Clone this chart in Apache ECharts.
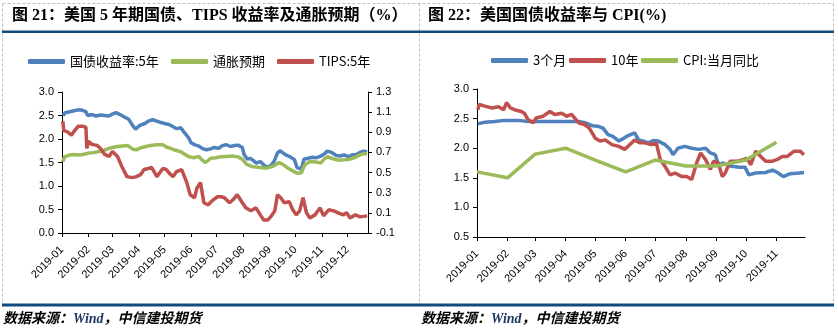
<!DOCTYPE html>
<html><head><meta charset="utf-8">
<script src="https://cdn.jsdelivr.net/npm/echarts@6/dist/echarts.min.js"></script>
<style>html,body{margin:0;padding:0;background:#fff}#c{width:838px;height:328px}</style>
</head><body><div id="c"></div>
<script>
// ---------------- DATA ----------------
const title21 = '图 21：美国 5 年期国债、TIPS 收益率及通胀预期（%）';
const title22 = '图 22：美国国债收益率与 CPI(%)';
const sourceParts = ['数据来源：', 'Wind', '，中信建投期货'];

const leftMonthLabels = ['2019-01','2019-02','2019-03','2019-04','2019-05','2019-06','2019-07','2019-08','2019-09','2019-10','2019-11','2019-12'];
const rightMonthLabels = ['2019-01','2019-02','2019-03','2019-04','2019-05','2019-06','2019-07','2019-08','2019-09','2019-10','2019-11'];
const leftYTicks = [0.0,0.5,1.0,1.5,2.0,2.5,3.0];
const rightYTicks = [-0.1,0.1,0.3,0.5,0.7,0.9,1.1,1.3];
const right2YTicks = [0.5,1.0,1.5,2.0,2.5,3.0];

const names21 = ['国债收益率:5年','通胀预期','TIPS:5年'];
const names22 = ['3个月','10年','CPI:当月同比'];

// 5Y Treasury yield (left axis)
const tsy5 = [
['2019-01-02',2.50],['2019-01-05',2.56],['2019-01-10',2.58],['2019-01-15',2.60],['2019-01-20',2.62],['2019-01-25',2.61],['2019-01-29',2.58],['2019-01-31',2.50],
['2019-02-05',2.52],['2019-02-10',2.49],['2019-02-15',2.51],['2019-02-20',2.50],['2019-02-25',2.49],
['2019-03-01',2.53],['2019-03-05',2.56],['2019-03-10',2.52],['2019-03-15',2.47],['2019-03-20',2.42],['2019-03-25',2.28],['2019-03-28',2.21],
['2019-04-02',2.29],['2019-04-08',2.33],['2019-04-12',2.38],['2019-04-17',2.41],['2019-04-22',2.38],['2019-04-27',2.35],
['2019-05-01',2.33],['2019-05-06',2.31],['2019-05-10',2.27],['2019-05-15',2.22],['2019-05-20',2.24],['2019-05-24',2.14],['2019-05-29',2.03],
['2019-06-01',1.92],['2019-06-05',1.88],['2019-06-10',1.85],['2019-06-14',1.80],['2019-06-19',1.77],['2019-06-24',1.79],['2019-06-28',1.82],
['2019-07-03',1.80],['2019-07-08',1.86],['2019-07-12',1.88],['2019-07-17',1.84],['2019-07-22',1.86],['2019-07-26',1.87],['2019-07-31',1.82],
['2019-08-02',1.67],['2019-08-06',1.57],['2019-08-09',1.59],['2019-08-13',1.54],['2019-08-16',1.49],['2019-08-21',1.52],['2019-08-26',1.43],['2019-08-30',1.40],
['2019-09-03',1.45],['2019-09-06',1.52],['2019-09-10',1.70],['2019-09-13',1.75],['2019-09-17',1.70],['2019-09-20',1.66],['2019-09-25',1.62],['2019-09-30',1.56],
['2019-10-03',1.39],['2019-10-08',1.36],['2019-10-11',1.57],['2019-10-16',1.59],['2019-10-21',1.61],['2019-10-25',1.60],['2019-10-30',1.63],
['2019-11-04',1.68],['2019-11-07',1.74],['2019-11-12',1.72],['2019-11-18',1.65],['2019-11-22',1.64],['2019-11-27',1.66],
['2019-12-03',1.62],['2019-12-06',1.66],['2019-12-11',1.67],['2019-12-16',1.72],['2019-12-20',1.74],['2019-12-24',1.73]
];
// 5Y breakeven inflation (left axis)
const breakeven = [
['2019-01-02',1.52],['2019-01-04',1.62],['2019-01-10',1.66],['2019-01-15',1.67],['2019-01-22',1.66],['2019-01-28',1.68],
['2019-02-01',1.70],['2019-02-07',1.71],['2019-02-12',1.73],['2019-02-18',1.75],['2019-02-25',1.80],
['2019-03-01',1.82],['2019-03-07',1.84],['2019-03-13',1.85],['2019-03-19',1.86],['2019-03-25',1.78],['2019-03-29',1.77],
['2019-04-03',1.81],['2019-04-09',1.84],['2019-04-15',1.86],['2019-04-22',1.88],['2019-04-29',1.88],
['2019-05-03',1.83],['2019-05-08',1.80],['2019-05-14',1.76],['2019-05-20',1.73],['2019-05-24',1.68],['2019-05-30',1.62],
['2019-06-04',1.60],['2019-06-10',1.63],['2019-06-14',1.55],['2019-06-18',1.50],['2019-06-24',1.59],['2019-06-30',1.60],
['2019-07-05',1.62],['2019-07-12',1.63],['2019-07-19',1.64],['2019-07-26',1.62],['2019-07-31',1.57],
['2019-08-05',1.46],['2019-08-12',1.41],['2019-08-19',1.40],['2019-08-26',1.38],['2019-08-30',1.39],
['2019-09-05',1.42],['2019-09-12',1.50],['2019-09-18',1.44],['2019-09-24',1.36],['2019-09-30',1.30],
['2019-10-04',1.27],['2019-10-08',1.28],['2019-10-12',1.45],['2019-10-18',1.52],['2019-10-25',1.51],['2019-10-31',1.49],
['2019-11-04',1.58],['2019-11-08',1.62],['2019-11-14',1.58],['2019-11-20',1.55],['2019-11-27',1.56],
['2019-12-03',1.57],['2019-12-09',1.60],['2019-12-13',1.64],['2019-12-18',1.68],['2019-12-24',1.69]
];
// 5Y TIPS yield (right axis)
const tips5 = [
['2019-01-02',1.01],['2019-01-03',0.92],['2019-01-08',0.90],['2019-01-12',0.87],['2019-01-16',0.92],['2019-01-20',0.96],['2019-01-25',0.96],['2019-01-29',0.95],['2019-01-30',0.74],
['2019-02-01',0.81],['2019-02-05',0.78],['2019-02-11',0.77],['2019-02-15',0.74],['2019-02-20',0.68],['2019-02-25',0.66],
['2019-03-01',0.71],['2019-03-07',0.66],['2019-03-12',0.56],['2019-03-18',0.46],['2019-03-24',0.45],['2019-03-29',0.46],
['2019-04-03',0.48],['2019-04-07',0.53],['2019-04-12',0.54],['2019-04-16',0.55],['2019-04-22',0.46],['2019-04-29',0.54],
['2019-05-03',0.53],['2019-05-07',0.49],['2019-05-11',0.46],['2019-05-15',0.51],['2019-05-21',0.53],['2019-05-27',0.40],['2019-05-31',0.28],
['2019-06-05',0.25],['2019-06-08',0.35],['2019-06-12',0.40],['2019-06-16',0.20],['2019-06-21',0.18],['2019-06-27',0.23],
['2019-07-02',0.26],['2019-07-06',0.26],['2019-07-10',0.25],['2019-07-16',0.20],['2019-07-20',0.23],['2019-07-25',0.28],['2019-07-31',0.20],
['2019-08-04',0.15],['2019-08-10',0.12],['2019-08-16',0.15],['2019-08-21',0.08],['2019-08-25',0.03],['2019-08-30',0.03],
['2019-09-03',0.07],['2019-09-07',0.12],['2019-09-10',0.28],['2019-09-14',0.25],['2019-09-18',0.20],['2019-09-24',0.21],['2019-09-28',0.13],
['2019-10-02',0.08],['2019-10-06',0.12],['2019-10-10',0.25],['2019-10-14',0.10],['2019-10-18',0.05],['2019-10-24',0.08],['2019-10-30',0.15],
['2019-11-03',0.07],['2019-11-09',0.13],['2019-11-15',0.12],['2019-11-20',0.10],['2019-11-26',0.08],['2019-11-30',0.10],
['2019-12-04',0.05],['2019-12-10',0.08],['2019-12-16',0.06],['2019-12-24',0.07]
];
// 3M bill yield
const bill3m = [
['2019-01-02',2.41],['2019-01-09',2.44],['2019-01-19',2.45],['2019-01-29',2.47],['2019-02-12',2.47],['2019-02-22',2.45],['2019-03-04',2.45],['2019-03-18',2.45],['2019-03-28',2.45],
['2019-04-07',2.45],['2019-04-14',2.45],['2019-04-21',2.43],['2019-04-28',2.38],['2019-05-04',2.37],['2019-05-09',2.34],['2019-05-14',2.23],['2019-05-19',2.20],['2019-05-25',2.12],['2019-05-30',2.17],
['2019-06-03',2.21],['2019-06-10',2.26],['2019-06-14',2.14],['2019-06-19',2.12],['2019-06-24',2.09],['2019-06-29',2.13],['2019-07-04',2.12],['2019-07-11',2.06],['2019-07-16',1.98],['2019-07-19',1.89],
['2019-07-24',2.00],['2019-07-31',2.03],['2019-08-07',2.00],['2019-08-14',1.98],['2019-08-21',2.00],['2019-08-26',1.92],['2019-08-31',1.89],['2019-09-03',1.72],['2019-09-08',1.75],['2019-09-15',1.70],
['2019-09-24',1.68],['2019-09-30',1.68],['2019-10-04',1.55],['2019-10-11',1.58],['2019-10-21',1.59],['2019-10-28',1.63],['2019-11-02',1.59],['2019-11-08',1.52],['2019-11-15',1.57],['2019-11-24',1.58],['2019-11-29',1.59]
];
// 10Y Treasury yield
const tsy10 = [
['2019-01-02',2.65],['2019-01-03',2.74],['2019-01-09',2.71],['2019-01-16',2.68],['2019-01-23',2.70],['2019-01-28',2.65],['2019-01-31',2.77],
['2019-02-04',2.68],['2019-02-08',2.65],['2019-02-15',2.62],['2019-02-18',2.59],['2019-02-22',2.48],['2019-02-27',2.43],
['2019-03-02',2.51],['2019-03-09',2.54],['2019-03-16',2.62],['2019-03-21',2.57],['2019-03-28',2.59],
['2019-04-02',2.54],['2019-04-07',2.57],['2019-04-14',2.43],['2019-04-20',2.40],['2019-04-25',2.34],
['2019-05-01',2.17],['2019-05-06',2.12],['2019-05-11',2.14],['2019-05-18',2.06],['2019-05-25',2.03],['2019-05-31',1.98],
['2019-06-05',2.06],['2019-06-10',2.14],['2019-06-15',2.09],['2019-06-20',2.09],['2019-06-27',2.06],
['2019-07-02',2.09],['2019-07-06',1.81],['2019-07-11',1.69],['2019-07-16',1.55],['2019-07-21',1.58],['2019-07-28',1.52],
['2019-08-02',1.52],['2019-08-07',1.47],['2019-08-12',1.75],['2019-08-16',1.92],['2019-08-21',1.81],['2019-08-26',1.64],['2019-08-29',1.78],
['2019-09-03',1.75],['2019-09-07',1.52],['2019-09-10',1.58],['2019-09-15',1.78],['2019-09-22',1.78],['2019-09-29',1.81],
['2019-10-02',1.83],['2019-10-06',1.72],['2019-10-11',1.95],['2019-10-16',1.86],['2019-10-21',1.78],['2019-10-28',1.78],
['2019-11-02',1.81],['2019-11-07',1.86],['2019-11-12',1.86],['2019-11-19',1.95],['2019-11-25',1.95],['2019-11-29',1.89]
];
// CPI YoY (monthly)
const cpiMonths = ['2019-01','2019-02','2019-03','2019-04','2019-05','2019-06','2019-07','2019-08','2019-09','2019-10','2019-11'];
const cpiVals = [1.6,1.5,1.9,2.0,1.8,1.6,1.8,1.7,1.7,1.8,2.1];

// ---------------- CHART ----------------
const dateTs = s => { const p = s.split('-'); return new Date(+p[0], +p[1]-1, p[2] ? +p[2] : 1).getTime(); };
const toTs = arr => arr.map(d => [dateTs(d[0]), d[1]]);
const pad = n => (n < 10 ? '0' : '') + n;
const fmtMonth = v => { const d = new Date(v); return d.getFullYear() + '-' + pad(d.getMonth()+1); };
const C_BLUE = '#4F81BD', C_RED = '#C0504D', C_GREEN = '#9BBB59';
const NAVY = '#0F4C7D';
const axisFontFamily = '"Liberation Sans", Arial, sans-serif';
const axisLine = { show: true, lineStyle: { color: '#000', width: 1 } };

function xAxisCfg(grid, minD, maxD, labels) {
  const ts = labels.map(dateTs);
  return {
    type: 'value', gridIndex: grid, min: dateTs(minD), max: dateTs(maxD), scale: true,
    axisLine: axisLine,
    axisTick: { show: true, length: 4, customValues: ts, lineStyle: { color: '#000' } },
    axisLabel: { rotate: 45, margin: 15, customValues: ts, formatter: v => fmtMonth(v), fontSize: 11, fontFamily: axisFontFamily, color: '#000' },
    splitLine: { show: false }
  };
}
function yAxisCfg(grid, min, max, ticks, pos) {
  return {
    type: 'value', gridIndex: grid, min: min, max: max, position: pos,
    axisLine: axisLine,
    axisTick: { show: true, length: 4, customValues: ticks, lineStyle: { color: '#000' } },
    axisLabel: { margin: 8, customValues: ticks, formatter: v => (+v).toFixed(1), fontSize: 11, fontFamily: axisFontFamily, color: '#000' },
    splitLine: { show: false }
  };
}
function legendItem(name, left, top) {
  return {
    data: [name], left: left, top: top, padding: 0, icon: 'roundRect', itemWidth: 37, itemHeight: 5, itemGap: 0,
    textStyle: { fontFamily: '"Noto Sans CJK SC", sans-serif', fontSize: 13, color: '#000' }
  };
}
function lineSeries(name, data, xi, yi, color) {
  return { name: name, type: 'line', xAxisIndex: xi, yAxisIndex: yi, data: data, showSymbol: false, symbol: 'none',
    color: color, itemStyle: { color: color }, lineStyle: { color: color, width: 3.5 }, animation: false };
}
const cpiData = cpiMonths.map((m, i) => [dateTs(m), cpiVals[i]]);

const titleFont = { fontFamily: '"Liberation Serif", "Noto Sans CJK SC", serif', fontSize: 16, fontWeight: 'bold', color: '#000' };
const srcRich = {
  a: { fontFamily: '"Liberation Serif", "Noto Sans CJK SC", serif', fontSize: 14, fontWeight: 'bold', fontStyle: 'italic', color: '#000' },
  b: { fontFamily: '"Liberation Serif", serif', fontSize: 14, fontWeight: 'bold', fontStyle: 'italic', color: '#1F3864' }
};
const srcText = '{a|' + sourceParts[0] + '}{b|' + sourceParts[1] + '}{a|' + sourceParts[2] + '}';

const dash = { stroke: '#BFBFBF', lineWidth: 1, lineDash: [3, 2] };
const option = {
  backgroundColor: '#fff',
  animation: false,
  title: [
    { text: title21, left: 12, top: 8, padding: 0, textStyle: titleFont },
    { text: title22, left: 428, top: 8, padding: 0, textStyle: titleFont },
    { text: srcText, left: 3, top: 312, padding: 0, textStyle: { rich: srcRich } },
    { text: srcText, left: 421, top: 312, padding: 0, textStyle: { rich: srcRich } }
  ],
  legend: [
    legendItem(names21[0], 28, 55), legendItem(names21[1], 171, 55), legendItem(names21[2], 277, 55),
    legendItem(names22[0], 491, 54), legendItem(names22[1], 569, 54), legendItem(names22[2], 641, 54)
  ],
  grid: [
    { left: 62, top: 92, width: 306, height: 141 },
    { left: 477, top: 89, width: 328, height: 148 }
  ],
  xAxis: [
    xAxisCfg(0, '2019-01-01', '2019-12-25', leftMonthLabels),
    xAxisCfg(1, '2019-01-01', '2019-11-30', rightMonthLabels)
  ],
  yAxis: [
    yAxisCfg(0, 0, 3, leftYTicks, 'left'),
    yAxisCfg(0, -0.1, 1.3, rightYTicks, 'right'),
    yAxisCfg(1, 0.5, 3, right2YTicks, 'left')
  ],
  series: [
    lineSeries(names21[0], toTs(tsy5), 0, 0, C_BLUE),
    lineSeries(names21[1], toTs(breakeven), 0, 0, C_GREEN),
    lineSeries(names21[2], toTs(tips5), 0, 1, C_RED),
    lineSeries(names22[0], toTs(bill3m), 1, 2, C_BLUE),
    lineSeries(names22[1], toTs(tsy10), 1, 2, C_RED),
    lineSeries(names22[2], cpiData, 1, 2, C_GREEN)
  ],
  graphic: [
    { type: 'line', shape: { x1: 2.5, y1: 3.5, x2: 833.5, y2: 3.5 }, style: dash, silent: true },
    { type: 'line', shape: { x1: 2.5, y1: 3.5, x2: 2.5, y2: 304 }, style: dash, silent: true },
    { type: 'line', shape: { x1: 419.5, y1: 3.5, x2: 419.5, y2: 304 }, style: dash, silent: true },
    { type: 'line', shape: { x1: 833.5, y1: 3.5, x2: 833.5, y2: 304 }, style: dash, silent: true },
    { type: 'rect', shape: { x: 2, y: 30.5, width: 832, height: 2.5 }, style: { fill: NAVY }, silent: true },
    { type: 'rect', shape: { x: 2, y: 303.5, width: 832, height: 3 }, style: { fill: NAVY }, silent: true }
  ]
};
const chart = echarts.init(document.getElementById('c'), null, { renderer: 'canvas' });
chart.setOption(option);
</script></body></html>
